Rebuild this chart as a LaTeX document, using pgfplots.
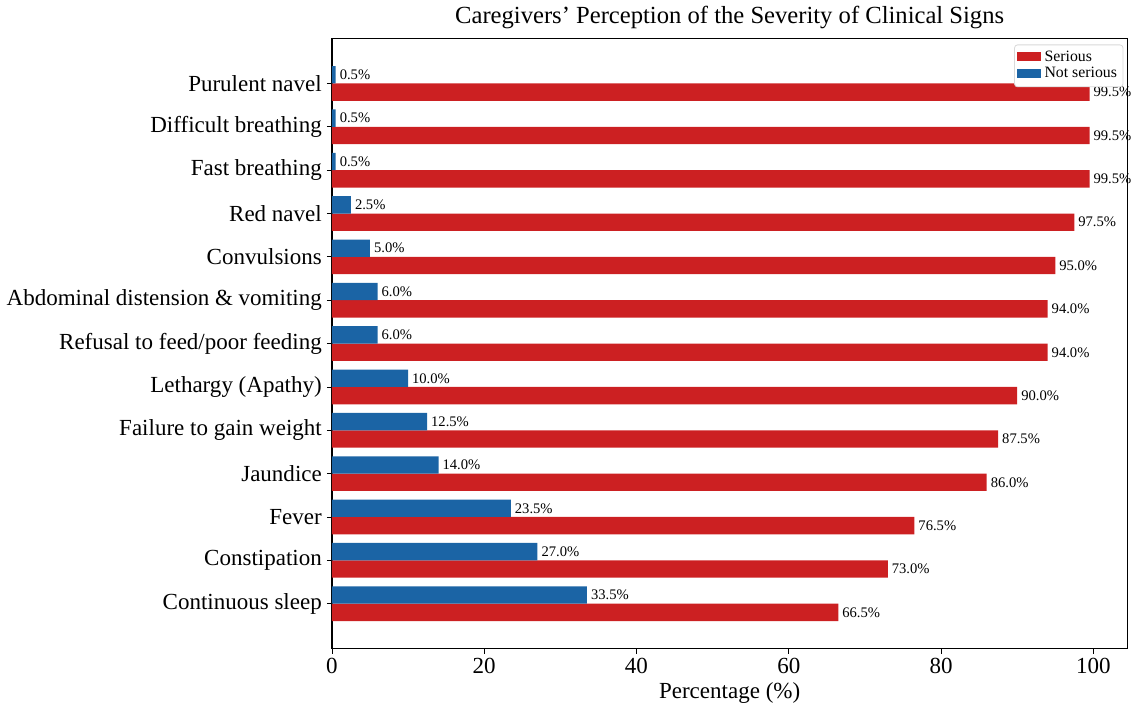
\documentclass[border=0pt]{standalone}
\usepackage{pgfplots}
\pgfplotsset{compat=1.18}
\usepackage{fontspec}
\setmainfont{Liberation Serif}
\definecolor{cred}{RGB}{204,32,34}
\definecolor{cblue}{RGB}{27,100,165}
\begin{document}
\begin{tikzpicture}
\begin{axis}[
  scale only axis,
  width=397.5pt, height=305pt,
  xbar,
  bar width=0.4,
  xmin=0, xmax=104.475,
  ymin=-1.04, ymax=13.04,
  ytick={0,1,2,3,4,5,6,7,8,9,10,11,12},
  yticklabels={Continuous sleep,Constipation,Fever,Jaundice,Failure to gain weight,Lethargy (Apathy),Refusal to feed/poor feeding,Abdominal distension \& vomiting,Convulsions,Red navel,Fast breathing,Difficult breathing,Purulent navel},
  xtick={0,20,40,60,80,100},
  tick align=outside,
  xtick pos=bottom, ytick pos=left,
  major tick length=2.5pt,
  tick style={black, line width=0.4pt},
  /pgf/number format/assume math mode=true,
  ticklabel style={font=\fontsize{11.5}{13}\selectfont},
  yticklabel style={xshift=1pt},
  xticklabel style={yshift=1.5pt},
  xlabel={Percentage (\%)},
  xlabel style={font=\fontsize{11.5}{13}\selectfont, yshift=2.5pt},
  title={Caregivers’ Perception of the Severity of Clinical Signs},
  title style={font=\fontsize{12.3}{14}\selectfont, yshift=-5pt},
  axis line style={black, line width=0.6pt},
  clip=false,
  legend style={at={(0.995,0.99)}, anchor=north east, font=\fontsize{7.9}{8.5}\selectfont, draw=black!15, rounded corners=1.5pt, inner sep=1pt, row sep=-2.5pt, cells={anchor=west}},
  legend image code/.code={\fill[#1, sharp corners] (0pt,-1.9pt) rectangle (12pt,2.6pt);},
  nodes near coords={\pgfmathprintnumber[fixed,precision=1,zerofill]{\pgfplotspointmeta}\%},
  every node near coord/.append style={font=\fontsize{7.3}{8}\selectfont, anchor=west, xshift=-1.5pt, text=black},
  point meta=explicit,
]
\addplot[fill=cred, draw=none, bar shift=-0.2] table[x=v, y=y, meta=v] {
y v
0 66.5
1 73.0
2 76.5
3 86.0
4 87.5
5 90.0
6 94.0
7 94.0
8 95.0
9 97.5
10 99.5
11 99.5
12 99.5
};
\addlegendentry{Serious}
\addplot[fill=cblue, draw=none, bar shift=0.2] table[x=v, y=y, meta=v] {
y v
0 33.5
1 27.0
2 23.5
3 14.0
4 12.5
5 10.0
6 6.0
7 6.0
8 5.0
9 2.5
10 0.5
11 0.5
12 0.5
};
\addlegendentry{Not serious}
\end{axis}
\end{tikzpicture}
\end{document}
